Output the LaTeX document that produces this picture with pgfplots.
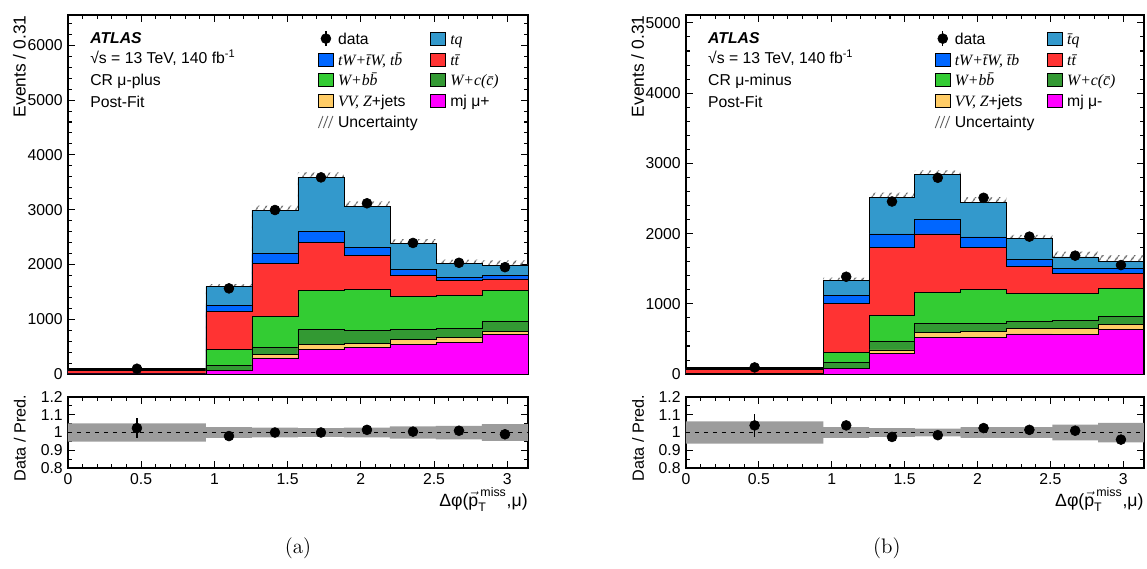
\documentclass[border=0pt]{standalone}
\usepackage{amsmath}
\usepackage{fontspec}
\setsansfont{Liberation Sans}
\renewcommand{\familydefault}{\sfdefault}
\newfontfamily\tnr{Liberation Serif}
\usepackage{pgfplots}
\pgfplotsset{compat=1.18}
\usepackage{pgfplotstable}
\usetikzlibrary{patterns.meta}
\usepgfplotslibrary{fillbetween}

\definecolor{ctq}{RGB}{51,153,204}
\definecolor{ctw}{RGB}{0,102,255}
\definecolor{ctt}{RGB}{255,51,51}
\definecolor{cwbb}{RGB}{51,204,51}
\definecolor{cwc}{RGB}{51,153,51}
\definecolor{cvv}{RGB}{255,204,102}
\definecolor{cmj}{RGB}{255,0,255}

% cumulative stack tops (bottom -> top), last row repeats last bin
\pgfplotstableread{
x      mj  vv  wc  wbb  tt   tw   tq   hi   lo
0      2   3   5   10   70   78   95   100  90
0.9425 60  65  153 448  1135 1245 1595 1643 1547
1.2566 294 356 479 1043 2012 2196 2994 3075 2913
1.5708 442 540 816 1521 2399 2601 3589 3679 3499
1.8850 491 552 804 1552 2160 2307 3067 3153 2981
2.1991 540 626 816 1417 1804 1908 2380 2463 2297
2.5133 571 663 828 1429 1706 1767 2012 2088 1936
2.8274 730 785 957 1534 1736 1798 1982 2075 1889
3.1416 730 785 957 1534 1736 1798 1982 2075 1889
}\stackplus
\pgfplotstableread{
x      rhi   rlo
0      1.051 0.949
0.9425 1.030 0.970
1.2566 1.027 0.973
1.5708 1.025 0.975
1.8850 1.028 0.972
2.1991 1.035 0.965
2.5133 1.038 0.962
2.8274 1.047 0.953
3.1416 1.047 0.953
}\bandplus
\pgfplotstableread{
x      d    de r     re
0.4712 98   10 1.025 0.057
1.0996 1564 40 0.980 0.025
1.4137 2994 55 1.000 0.019
1.7279 3589 60 1.000 0.018
2.0420 3117 56 1.015 0.019
2.3562 2393 49 1.005 0.021
2.6704 2031 45 1.010 0.023
2.9845 1951 44 0.990 0.023
}\dataplus

\pgfplotstableread{
x      mj  vv  wc  wbb  tt   tw   tq   hi   lo
0      2   3   5   10   68   75   91   97   85
0.9425 75  85  162 310  1010 1119 1333 1373 1293
1.2566 295 343 462 833  1800 1995 2519 2582 2456
1.5708 524 590 714 1162 1995 2205 2838 2900 2776
1.8850 524 605 724 1210 1805 1952 2448 2521 2375
2.1991 571 643 752 1152 1533 1638 1924 1982 1866
2.5133 567 643 762 1152 1429 1500 1667 1742 1592
2.8274 629 705 819 1219 1438 1500 1605 1693 1517
3.1416 629 705 819 1219 1438 1500 1605 1693 1517
}\stackminus
\pgfplotstableread{
x      rhi   rlo
0      1.063 0.937
0.9425 1.030 0.970
1.2566 1.025 0.975
1.5708 1.022 0.978
1.8850 1.030 0.970
2.1991 1.030 0.970
2.5133 1.045 0.955
2.8274 1.055 0.945
3.1416 1.055 0.945
}\bandminus
\pgfplotstableread{
x      d    de r     re
0.4712 95   10 1.040 0.063
1.0996 1386 37 1.040 0.027
1.4137 2457 50 0.975 0.020
1.7279 2795 53 0.985 0.019
2.0420 2510 50 1.025 0.020
2.3562 1957 44 1.015 0.023
2.6704 1686 41 1.010 0.024
2.9845 1552 39 0.960 0.025
}\dataminus

\tikzset{txt/.style={anchor=base west, inner sep=0pt, font=\fontsize{10.5}{12}\selectfont}}

\pgfplotsset{
  atl/.style={
    scale only axis, anchor=south west,
    xmin=0, xmax=3.1416,
    tick align=inside,
    major tick length=4.5pt, minor tick length=2.5pt,
    axis line style={line width=0.9pt},
    every tick/.style={black, line width=0.7pt},
    tick label style={font=\fontsize{10.5}{12}\selectfont},
    label style={font=\fontsize{11.2}{13}\selectfont, inner sep=0pt},
    /pgf/number format/assume math mode=true,
    /pgf/number format/1000 sep={},
    scaled ticks=false,
    xtick={0,0.5,1,1.5,2,2.5,3}, minor x tick num=4,
  },
  mainax/.style={atl,
    xticklabels={}, ytick distance=1000, minor y tick num=4,
    ylabel={Events / 0.31},
    ylabel style={at={(rel axis cs:-0.091,1)}, anchor=south east, font=\fontsize{11.6}{13}\selectfont},
    legend columns=2, legend cell align=left,
    legend style={at={(rel axis cs:0.5435,0.962)}, anchor=north west,
      draw=none, fill=none, inner sep=0pt, outer sep=0pt, row sep=0.8pt,
      font=\fontsize{10.5}{12}\selectfont,
      nodes={inner sep=0.5pt, text height=9.8pt, text depth=2.3pt},
      /tikz/every odd column/.append style={column sep=2.3pt},
      /tikz/every even column/.append style={column sep=8pt}},
    legend image code/.code={\filldraw[##1, draw=black, line width=0.5pt] (0pt,-4.3pt) rectangle (10pt,4.3pt);},
  },
  ratioax/.style={atl,
    ymin=0.8, ymax=1.2, ytick={0.8,0.9,1,1.1,1.2}, minor y tick num=1,
    xlabel={Δφ($\vec{\text{p}}^{\,\text{miss}}_{\text{T}}$,μ)},
    xlabel style={at={(rel axis cs:1,0)}, anchor=north east, yshift=-13pt, font=\fontsize{11.8}{13}\selectfont},
    ylabel={Data / Pred.},
    ylabel style={at={(rel axis cs:-0.091,0.42)}, anchor=south, font=\fontsize{10.8}{13}\selectfont},
  },
  stk/.style={const plot, draw=black, line width=0.6pt, forget plot},
  hatch/.style={pattern={Lines[angle=55,distance=4pt,line width=0.75pt]}, pattern color=gray!75!black, draw=none, forget plot},
  datpts/.style={only marks, mark=*, mark size=3.3pt, black, forget plot,
    error bars/.cd, y dir=both, y explicit, error mark=none,
    error bar style={line width=0.8pt}},
}

\begin{document}
\begin{tikzpicture}

% ---------------- (a) mu-plus ----------------
\begin{axis}[mainax, at={(45.3pt,129.3pt)}, width=306.7pt, height=239.3pt,
  ymin=0, ymax=6550]
\addplot[stk, fill=ctq]  table[x=x,y=tq]  {\stackplus} \closedcycle;
\addplot[stk, fill=ctw]  table[x=x,y=tw]  {\stackplus} \closedcycle;
\addplot[stk, fill=ctt]  table[x=x,y=tt]  {\stackplus} \closedcycle;
\addplot[stk, fill=cwbb] table[x=x,y=wbb] {\stackplus} \closedcycle;
\addplot[stk, fill=cwc]  table[x=x,y=wc]  {\stackplus} \closedcycle;
\addplot[stk, fill=cvv]  table[x=x,y=vv]  {\stackplus} \closedcycle;
\addplot[stk, fill=cmj]  table[x=x,y=mj]  {\stackplus} \closedcycle;
\addplot[name path=hiA, const plot, draw=none, forget plot] table[x=x,y=hi] {\stackplus};
\addplot[name path=loA, const plot, draw=none, forget plot] table[x=x,y=lo] {\stackplus};
\addplot[hatch] fill between[of=hiA and loA];
\addplot[datpts] table[x=x,y=d,y error=de] {\dataplus};
\node[txt, font=\fontsize{10.5}{12}\selectfont\bfseries\itshape] at (rel axis cs:0.048,0.922) {ATLAS};
\node[txt] at (rel axis cs:0.048,0.866) {√s = 13 TeV, 140 fb\textsuperscript{-1}};
\node[txt] at (rel axis cs:0.048,0.805) {CR μ-plus};
\node[txt] at (rel axis cs:0.048,0.744) {Post-Fit};
\addlegendimage{legend image code/.code={\draw[black,line width=0.8pt] (5pt,-5pt)--(5pt,5pt); \fill[black] (5pt,0pt) circle (3.3pt);}}
\addlegendentry{data}
\addlegendimage{fill=ctq}\addlegendentry{{\tnr\itshape tq}}
\addlegendimage{fill=ctw}\addlegendentry{{\tnr\itshape tW+\={t}W, t\={b}}}
\addlegendimage{fill=ctt}\addlegendentry{{\tnr\itshape t\={t}}}
\addlegendimage{fill=cwbb}\addlegendentry{{\tnr\itshape W+b\={b}}}
\addlegendimage{fill=cwc}\addlegendentry{{\tnr\itshape W+c(\={c})}}
\addlegendimage{fill=cvv}\addlegendentry{{\tnr\itshape VV, Z}+jets}
\addlegendimage{fill=cmj}\addlegendentry{mj μ+}
\addlegendimage{legend image code/.code={\foreach \i in {0,3.3,6.6}{\draw[gray!75!black,line width=0.6pt] (\i pt,-4pt) -- ({\i pt+3pt},4pt);}}}
\addlegendentry{Uncertainty}
\end{axis}

\begin{axis}[ratioax, at={(45.3pt,66.7pt)}, width=306.7pt, height=47.3pt]
\addplot[name path=rhA, const plot, draw=none, forget plot] table[x=x,y=rhi] {\bandplus};
\addplot[name path=rlA, const plot, draw=none, forget plot] table[x=x,y=rlo] {\bandplus};
\addplot[fill=gray!78, draw=none, forget plot] fill between[of=rhA and rlA];
\addplot[dashed, black, line width=0.8pt, forget plot] coordinates {(0,1) (3.1416,1)};
\addplot[datpts] table[x=x,y=r,y error=re] {\dataplus};
\end{axis}

% ---------------- (b) mu-minus ----------------
\begin{axis}[mainax, at={(457.3pt,129.3pt)}, width=305.3pt, height=239.3pt,
  ymin=0, ymax=5110]
\addplot[stk, fill=ctq]  table[x=x,y=tq]  {\stackminus} \closedcycle;
\addplot[stk, fill=ctw]  table[x=x,y=tw]  {\stackminus} \closedcycle;
\addplot[stk, fill=ctt]  table[x=x,y=tt]  {\stackminus} \closedcycle;
\addplot[stk, fill=cwbb] table[x=x,y=wbb] {\stackminus} \closedcycle;
\addplot[stk, fill=cwc]  table[x=x,y=wc]  {\stackminus} \closedcycle;
\addplot[stk, fill=cvv]  table[x=x,y=vv]  {\stackminus} \closedcycle;
\addplot[stk, fill=cmj]  table[x=x,y=mj]  {\stackminus} \closedcycle;
\addplot[name path=hiB, const plot, draw=none, forget plot] table[x=x,y=hi] {\stackminus};
\addplot[name path=loB, const plot, draw=none, forget plot] table[x=x,y=lo] {\stackminus};
\addplot[hatch] fill between[of=hiB and loB];
\addplot[datpts] table[x=x,y=d,y error=de] {\dataminus};
\node[txt, font=\fontsize{10.5}{12}\selectfont\bfseries\itshape] at (rel axis cs:0.048,0.922) {ATLAS};
\node[txt] at (rel axis cs:0.048,0.866) {√s = 13 TeV, 140 fb\textsuperscript{-1}};
\node[txt] at (rel axis cs:0.048,0.805) {CR μ-minus};
\node[txt] at (rel axis cs:0.048,0.744) {Post-Fit};
\addlegendimage{legend image code/.code={\draw[black,line width=0.8pt] (5pt,-5pt)--(5pt,5pt); \fill[black] (5pt,0pt) circle (3.3pt);}}
\addlegendentry{data}
\addlegendimage{fill=ctq}\addlegendentry{{\tnr\itshape \={t}q}}
\addlegendimage{fill=ctw}\addlegendentry{{\tnr\itshape tW+\={t}W, \={t}b}}
\addlegendimage{fill=ctt}\addlegendentry{{\tnr\itshape t\={t}}}
\addlegendimage{fill=cwbb}\addlegendentry{{\tnr\itshape W+b\={b}}}
\addlegendimage{fill=cwc}\addlegendentry{{\tnr\itshape W+c(\={c})}}
\addlegendimage{fill=cvv}\addlegendentry{{\tnr\itshape VV, Z}+jets}
\addlegendimage{fill=cmj}\addlegendentry{mj μ-}
\addlegendimage{legend image code/.code={\foreach \i in {0,3.3,6.6}{\draw[gray!75!black,line width=0.6pt] (\i pt,-4pt) -- ({\i pt+3pt},4pt);}}}
\addlegendentry{Uncertainty}
\end{axis}

\begin{axis}[ratioax, at={(457.3pt,66.7pt)}, width=305.3pt, height=47.3pt]
\addplot[name path=rhB, const plot, draw=none, forget plot] table[x=x,y=rhi] {\bandminus};
\addplot[name path=rlB, const plot, draw=none, forget plot] table[x=x,y=rlo] {\bandminus};
\addplot[fill=gray!78, draw=none, forget plot] fill between[of=rhB and rlB];
\addplot[dashed, black, line width=0.8pt, forget plot] coordinates {(0,1) (3.1416,1)};
\addplot[datpts] table[x=x,y=r,y error=re] {\dataminus};
\end{axis}

\node[font=\rmfamily\fontsize{14}{16}\selectfont] at (198.7pt,13.3pt) {(a)};
\node[font=\rmfamily\fontsize{14}{16}\selectfont] at (591.3pt,13.3pt) {(b)};

\pgfresetboundingbox
\path[use as bounding box] (0,0) rectangle (764.7pt,378.7pt);
\end{tikzpicture}
\end{document}
